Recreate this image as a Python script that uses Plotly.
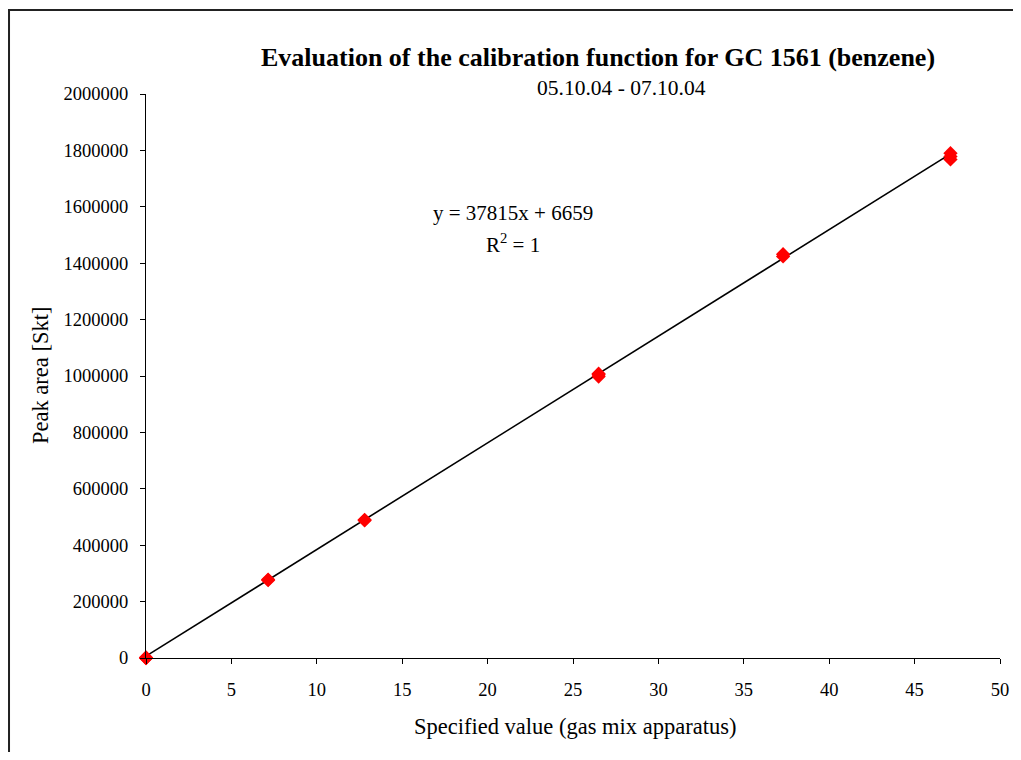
import plotly.graph_objects as go

# Data
specified_value = [0, 0, 0, 7.15, 7.15, 12.8, 12.8, 26.5, 26.5, 26.5, 37.3, 37.3, 47.1, 47.1, 47.1]
peak_area = [0, 2000, 0, 278000, 276000, 490000, 488000, 1008000, 998000, 1004000,
             1432000, 1424000, 1790000, 1768000, 1778000]
slope = 37815
intercept = 6659
x_ticks = [0, 5, 10, 15, 20, 25, 30, 35, 40, 45, 50]
y_ticks = [0, 200000, 400000, 600000, 800000, 1000000, 1200000, 1400000, 1600000, 1800000, 2000000]

font_family = "Liberation Serif, Times New Roman, serif"

line_x = [min(specified_value), max(specified_value)]
line_y = [slope * v + intercept for v in line_x]

fig = go.Figure()
fig.add_trace(go.Scatter(
    x=line_x, y=line_y, mode="lines",
    line=dict(color="black", width=1.6),
    hoverinfo="skip", showlegend=False,
))
fig.add_trace(go.Scatter(
    x=specified_value, y=peak_area, mode="markers",
    marker=dict(symbol="diamond", color="#ff0000", size=11, line=dict(width=0)),
    cliponaxis=False, showlegend=False,
))

fig.update_layout(
    width=1005, height=744,
    margin=dict(l=138, r=13, t=86, b=94, autoexpand=False),
    paper_bgcolor="white", plot_bgcolor="white",
    font=dict(family=font_family, size=18, color="black"),
    showlegend=False,
)
fig.update_xaxes(
    range=[0, 50], tickvals=x_ticks, ticktext=[str(t) for t in x_ticks],
    showgrid=False, zeroline=False,
    showline=True, linecolor="black", linewidth=1,
    ticks="outside", ticklen=5, tickcolor="black",
    tickfont=dict(family=font_family, size=18.5),
    ticklabelstandoff=10,
)
fig.update_yaxes(
    range=[0, 2000000], tickvals=y_ticks, ticktext=[str(t) for t in y_ticks],
    showgrid=False, zeroline=False,
    showline=True, linecolor="black", linewidth=1,
    ticks="outside", ticklen=5, tickcolor="black",
    tickfont=dict(family=font_family, size=18.5),
    ticklabelstandoff=8,
)

fig.add_annotation(
    text="<b>Evaluation of the calibration function for GC 1561 (benzene)</b>",
    xref="paper", yref="paper", x=0.529, y=1.064, xanchor="center", yanchor="middle",
    showarrow=False, font=dict(family=font_family, size=26, color="black"),
)
fig.add_annotation(
    text="05.10.04 - 07.10.04",
    xref="paper", yref="paper", x=0.557, y=1.011, xanchor="center", yanchor="middle",
    showarrow=False, font=dict(family=font_family, size=21.5, color="black"),
)
fig.add_annotation(
    text=f"y = {slope}x + {intercept}",
    xref="paper", yref="paper", x=0.43, y=0.789, xanchor="center", yanchor="middle",
    showarrow=False, font=dict(family=font_family, size=21, color="black"),
)
fig.add_annotation(
    text="R<sup>2</sup> = 1",
    xref="paper", yref="paper", x=0.43, y=0.735, xanchor="center", yanchor="middle",
    showarrow=False, font=dict(family=font_family, size=21, color="black"),
)
fig.add_annotation(
    text="Specified value (gas mix apparatus)",
    xref="paper", yref="paper", x=0.502, y=-0.1223, xanchor="center", yanchor="middle",
    showarrow=False, font=dict(family=font_family, size=22.5, color="black"),
)
fig.add_annotation(
    text="Peak area [Skt]", textangle=-90,
    xref="paper", yref="paper", x=-0.1241, y=0.5, xanchor="center", yanchor="middle",
    showarrow=False, font=dict(family=font_family, size=22.5, color="black"),
)

# outer chart border
fig.add_shape(
    type="rect", xref="paper", yref="paper",
    x0=-0.1604, y0=-0.2, x1=1.05, y1=1.1489,
    line=dict(color="#222222", width=2), fillcolor="rgba(0,0,0,0)", layer="below",
)

fig.write_html("out.html")
